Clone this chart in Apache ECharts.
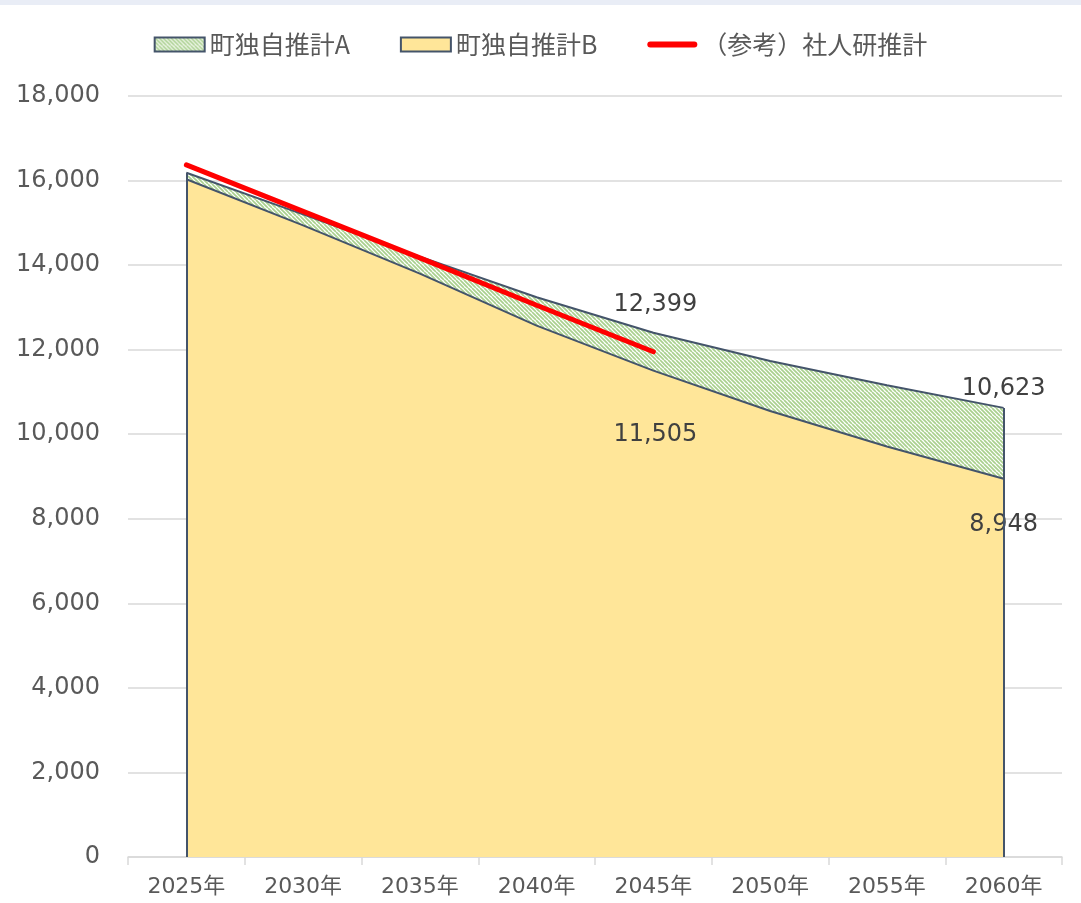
<!DOCTYPE html>
<html>
<head>
<meta charset="utf-8">
<script src="https://cdn.jsdelivr.net/npm/echarts@6/dist/echarts.min.js"></script>
<style>
  html, body { margin: 0; padding: 0; background: #fff; }
  #main { width: 1081px; height: 903px; }
</style>
</head>
<body>
<div id="main"></div>
<script>
"use strict"
const years = ['2025年', '2030年', '2035年', '2040年', '2045年', '2050年', '2055年', '2060年'];
const estA = [16186, 15200, 14200, 13240, 12399, 11730, 11160, 10623];
const estB = [16030, 14940, 13800, 12570, 11505, 10550, 9710, 8948];
const ipss = [16370, 15270, 14170, 13050, 11950];
const yTicks = [0, 18000, 2000];

const lineColor = '#44546a';
const textColor = '#595959';
const font = '"Noto Sans CJK JP", "Noto Sans", sans-serif';
const numFont = '"DejaVu Sans", "Noto Sans CJK JP", sans-serif';

// 斜線ハッチング
function makeHatch() {
    let c = document.createElement('canvas');
    c.width = 8; c.height = 8;
    let g = c.getContext('2d');
    g.fillStyle = '#ffffff';
    g.fillRect(0, 0, 8, 8);
    g.strokeStyle = '#a9d08e';
    g.lineWidth = 1.7;
    for (let k = -8; k <= 8; k += 4) {
        g.beginPath();
        g.moveTo(k, 0);
        g.lineTo(k + 8, 8);
        g.stroke();
    }
    return { image: c, repeat: 'repeat' };
}
const hatch = makeHatch();

function withLabels(arr, marks) {
    return arr.map(function (v, i) {
        let m = marks[i];
        if (!m) return v;
        return {
            value: v,
            label: {
                show: true, position: m.pos, offset: m.off,
                formatter: function (p) { return p.value.toLocaleString('en-US'); },
                color: '#404040', fontSize: 24, fontFamily: numFont
            }
        };
    });
}

function edges(arr) {
    let last = arr.length - 1;
    return [
        [{ xAxis: 0, yAxis: 0 }, { xAxis: 0, yAxis: arr[0] }],
        [{ xAxis: last, yAxis: 0 }, { xAxis: last, yAxis: arr[last] }]
    ];
}

let chart = echarts.init(document.getElementById('main'));
chart.setOption({
    animation: false,
    backgroundColor: '#fff',
    textStyle: { fontFamily: font },
    graphic: [{ type: 'rect', shape: { x: 0, y: 0, width: 1081, height: 5 }, style: { fill: '#e9edf6' } }],
    legend: {
        top: 27,
        left: 'center',
        itemWidth: 50,
        itemHeight: 14,
        itemGap: 50,
        textStyle: { color: textColor, fontSize: 25, fontFamily: font },
        data: [
            { name: '町独自推計A', icon: 'rect', itemStyle: { color: hatch, borderColor: lineColor, borderWidth: 2 } },
            { name: '町独自推計B', icon: 'rect', itemStyle: { color: '#ffe699', borderColor: lineColor, borderWidth: 2 } },
            {
                name: '（参考）社人研推計',
                icon: 'path://M3,0 L47,0 A3,3 0 0 1 47,6 L3,6 A3,3 0 0 1 3,0 Z',
                itemStyle: { color: '#ff0000', borderWidth: 0 }
            }
        ]
    },
    grid: { left: 128, right: 19, top: 96, bottom: 46 },
    xAxis: {
        type: 'category',
        data: years,
        boundaryGap: true,
        axisLine: { lineStyle: { color: '#d9d9d9', width: 1.5 } },
        axisTick: { show: true, length: 8, interval: 0, lineStyle: { color: '#d9d9d9', width: 1.5 } },
        axisLabel: { color: textColor, fontSize: 22, margin: 19, fontFamily: numFont }
    },
    yAxis: {
        type: 'value',
        min: yTicks[0], max: yTicks[1], interval: yTicks[2],
        axisLine: { show: false },
        axisTick: { show: false },
        splitLine: { lineStyle: { color: '#d9d9d9', width: 1.5 } },
        axisLabel: {
            color: textColor, fontSize: 24, margin: 28, fontFamily: numFont,
            formatter: function (v) { return v.toLocaleString('en-US'); }
        }
    },
    series: [
        {
            name: '町独自推計A',
            type: 'line',
            data: withLabels(estA, { 4: { pos: 'top', off: [2, -11] }, 7: { pos: 'top', off: [0, -2] } }),
            symbol: 'circle',
            symbolSize: 0,
            showSymbol: true,
            lineStyle: { color: lineColor, width: 2 },
            itemStyle: { color: lineColor },
            areaStyle: { color: hatch, opacity: 1 },
            markLine: {
                silent: true, symbol: 'none', label: { show: false },
                lineStyle: { color: lineColor, width: 2, type: 'solid' },
                data: edges(estA)
            },
            z: 2
        },
        {
            name: '町独自推計B',
            type: 'line',
            data: withLabels(estB, { 4: { pos: 'bottom', off: [2, 47] }, 7: { pos: 'bottom', off: [0, 29] } }),
            symbol: 'circle',
            symbolSize: 0,
            showSymbol: true,
            lineStyle: { color: lineColor, width: 2 },
            itemStyle: { color: lineColor },
            areaStyle: { color: '#ffe699', opacity: 1 },
            markLine: {
                silent: true, symbol: 'none', label: { show: false },
                lineStyle: { color: lineColor, width: 2, type: 'solid' },
                data: edges(estB)
            },
            z: 3
        },
        {
            name: '（参考）社人研推計',
            type: 'line',
            data: ipss,
            symbol: 'none',
            lineStyle: { color: '#ff0000', width: 5, cap: 'round' },
            itemStyle: { color: '#ff0000' },
            z: 4
        }
    ]
});
</script>
</body>
</html>
